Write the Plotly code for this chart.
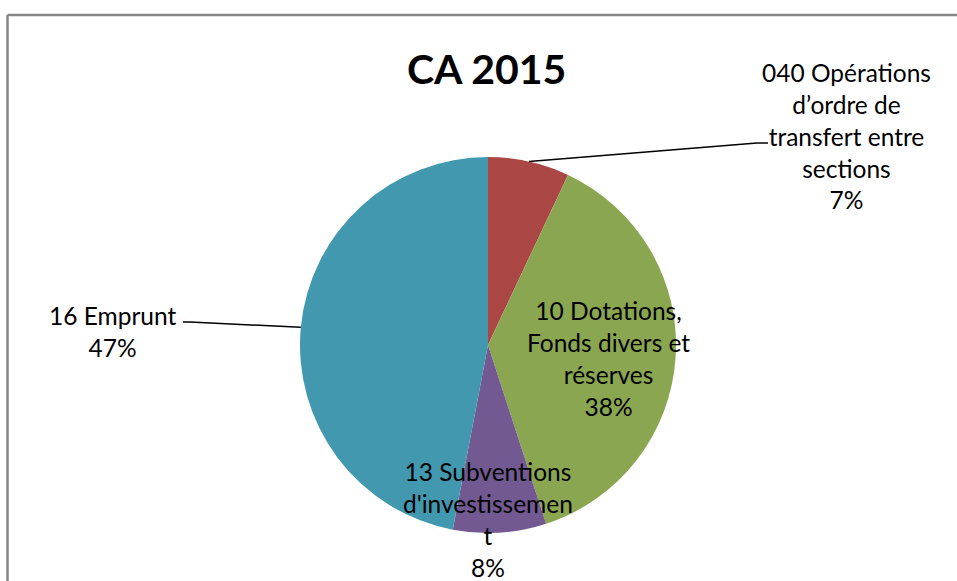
import math
import plotly.graph_objects as go

categories = ["040 Opérations d’ordre de transfert entre sections",
              "10 Dotations, Fonds divers et réserves",
              "13 Subventions d'investissement",
              "16 Emprunt"]
values = [7, 38, 8, 47]
colors = ["#AA4644", "#8BA650", "#725991", "#4298AF"]

# label text as wrapped in the reference
label_lines = [["040 Opérations", "d’ordre de", "transfert entre", "sections"],
               ["10 Dotations,", "Fonds divers et", "réserves"],
               ["13 Subventions", "d'investissemen", "t"],
               ["16 Emprunt"]]

W, H = 957, 581
cx, cy, r = 488, 345, 188  # pixel geometry of the pie

fig = go.Figure(go.Pie(
    labels=categories, values=values, sort=False, direction="clockwise",
    rotation=0, marker=dict(colors=colors, line=dict(width=0)),
    textinfo="none", hoverinfo="label+percent", showlegend=False,
    domain=dict(x=[(cx - r) / W, (cx + r) / W],
                y=[(H - cy - r) / H, (H - cy + r) / H]),
))

total = sum(values)
pcts = [round(v / total * 100) for v in values]

def px(x):
    return x / W

def py(y):
    return 1 - y / H

# label placement (pixel centres of the text blocks)
label_pos = [(846, 136), (608, 358), (488, 519), (112, 331)]
font = dict(family="Lato, Carlito, Calibri, sans-serif", size=24.5, color="#000000")
for lines, p, (lx, ly) in zip(label_lines, pcts, label_pos):
    txt = "<br>".join(lines + [f"{p}%"])
    fig.add_annotation(x=px(lx), y=py(ly), xref="paper", yref="paper",
                       text=txt, showarrow=False, font=font,
                       xanchor="center", yanchor="middle", align="center")

# leader lines from slice mid-angle edge points to outside labels
cum = 0
mids = []
for v in values:
    mids.append((cum + v / 2) / total * 2 * math.pi)
    cum += v

def edge(a):
    return cx + r * math.sin(a), cy - r * math.cos(a)

leaders = {0: [(768, 143), (757, 143)], 3: [(183, 322), (190, 322)]}
for idx, pts in leaders.items():
    ex, ey = edge(mids[idx])
    path_pts = pts + [(ex, ey)]
    d = "M " + " L ".join(f"{px(x)} {py(y)}" for x, y in path_pts)
    fig.add_shape(type="path", path=d, xref="paper", yref="paper",
                  line=dict(color="#000000", width=1.5))

# chart-area border (top and left edges visible)
fig.add_shape(type="line", xref="paper", yref="paper",
              x0=px(7.5), y0=py(15), x1=px(W + 5), y1=py(15),
              line=dict(color="#868686", width=2.5))
fig.add_shape(type="line", xref="paper", yref="paper",
              x0=px(7.5), y0=py(15), x1=px(7.5), y1=py(H + 5),
              line=dict(color="#868686", width=2.5))

fig.add_annotation(x=px(487), y=py(68), xref="paper", yref="paper",
                   text="<b>CA 2015</b>", showarrow=False,
                   font=dict(family="Lato, Carlito, Calibri, sans-serif", size=41, color="#000000"),
                   xanchor="center", yanchor="middle")

fig.update_layout(width=W, height=H, margin=dict(l=0, r=0, t=0, b=0),
                  paper_bgcolor="white", plot_bgcolor="white")

fig.write_html("out.html", config={"displayModeBar": False},
               post_script="document.body.style.margin='0';document.body.style.overflow='hidden';")
